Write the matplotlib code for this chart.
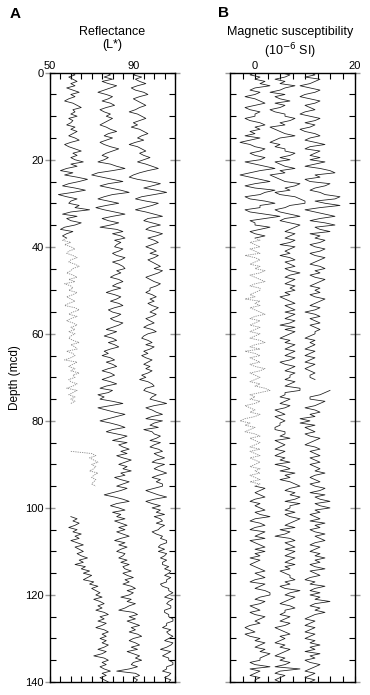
import numpy as np
import matplotlib
matplotlib.use("Agg")
import matplotlib.pyplot as plt
from matplotlib.ticker import MultipleLocator

plt.rcParams['font.family'] = ['Liberation Sans', 'DejaVu Sans']

nan = np.nan
depth = np.arange(0, 281) * 0.5  # mcd, 0.5 m steps

# Reflectance L* (three offset records), rows of 10 m
refl_1 = [
    60, 62, 59, 61, 63, 60, 62, 58, 61, 64, 60, 62, 59, 57, 61, 63, 65, 61, 62, 60,
    63, 59, 61, 60, 58, 62, 60, 63, 61, 59, 62, 64, 60, 57, 59, 62, 65, 61, 63, 60,
    62, 66, 60, 63, 58, 55, 61, 57, 63, 68, 64, 59, 56, 62, 67, 61, 54, 58, 63, 60,
    59, 64, 62, 69, 60, 56, 63, 58, 60, 65, 62, 57, 55, 61, 58, 56, 58, 56, 60, 57,
    60, 62, 59, 58, 61, 63, 60, 59, 62, 64, 61, 60, 58, 61, 63, 59, 62, 57, 60, 61,
    59, 63, 61, 58, 60, 62, 59, 57, 62, 64, 61, 59, 63, 60, 58, 61, 63, 60, 62, 59,
    62, 60, 59, 61, 64, 60, 62, 63, 58, 61, 62, 60, 57, 63, 61, 59, 62, 60, 64, 61,
    62, 59, 60, 63, 61, 58, 63, 61, 59, 62, 60, 62, 60, nan, nan, nan, nan, nan, nan, nan,
    nan, nan, nan, nan, nan, nan, nan, nan, nan, nan, nan, nan, nan, nan, 60, 70, 72, 69, 71, 73,
    70, 72, 71, 69, 73, 71, 70, 72, 71, 70, 72, nan, nan, nan, nan, nan, nan, nan, nan, nan,
    nan, nan, nan, nan, 60, 63, 61, 64, 62, 59, 63, 61, 65, 62, 64, 60, 63, 66, 62, 64,
    66, 63, 65, 68, 64, 66, 62, 67, 65, 69, 66, 70, 68, 66, 71, 69, 73, 70, 72, 74,
    72, 75, 71, 74, 76, 73, 75, 72, 76, 78, 74, 76, 73, 77, 75, 72, 76, 78, 75, 77,
    74, 77, 75, 78, 76, 73, 77, 75, 71, 76, 78, 75, 77, 74, 76, 79, 75, 77, 74, 76,
    78]
refl_2 = [
    77, 79, 76, 80, 75, 78, 82, 79, 76, 73, 77, 80, 78, 75, 79, 81, 77, 74, 76, 79,
    77, 80, 78, 76, 74, 77, 79, 82, 78, 76, 80, 77, 74, 76, 79, 83, 80, 77, 75, 78,
    76, 73, 79, 82, 86, 80, 73, 70, 75, 80, 85, 78, 74, 79, 84, 88, 80, 76, 73, 78,
    83, 77, 72, 76, 81, 86, 80, 75, 78, 83, 79, 74, 82, 85, 80, 84, 86, 81, 84, 82,
    81, 85, 83, 80, 82, 86, 84, 80, 83, 85, 86, 82, 84, 81, 79, 83, 85, 82, 80, 84,
    80, 77, 81, 84, 82, 79, 83, 85, 81, 78, 80, 84, 82, 79, 81, 85, 83, 80, 77, 82,
    79, 76, 80, 82, 78, 81, 83, 79, 76, 78, 75, 79, 81, 77, 80, 82, 78, 75, 79, 81,
    78, 75, 79, 82, 77, 74, 80, 78, 73, 76, 74, 80, 85, 79, 73, 77, 81, 86, 82, 78,
    74, 79, 83, 86, 80, 77, 82, 87, 84, 80, 87, 83, 85, 88, 84, 87, 82, 85, 89, 86,
    83, 87, 85, 89, 84, 86, 81, 84, 88, 85, 82, 87, 84, 80, 76, 81, 85, 88, 82, 79,
    83, 86, 80, 84, 82, 86, 81, 84, 87, 83, 86, 82, 85, 88, 84, 81, 86, 83, 87, 84,
    82, 86, 85, 83, 87, 84, 88, 85, 86, 89, 85, 87, 90, 86, 88, 85, 89, 91, 87, 90,
    88, 84, 89, 87, 91, 88, 86, 83, 90, 92, 88, 91, 87, 90, 93, 89, 91, 88, 92, 94,
    90, 88, 91, 93, 89, 92, 87, 90, 93, 91, 94, 90, 89, 92, 88, 82, 91, 93, 90, 92,
    91]
refl_3 = [
    92, 90, 94, 91, 93, 96, 92, 89, 91, 95, 97, 93, 90, 92, 94, 96, 93, 91, 88, 92,
    94, 96, 93, 90, 92, 89, 93, 95, 97, 94, 92, 95, 91, 88, 92, 94, 96, 93, 95, 98,
    95, 92, 96, 99, 102, 97, 93, 90, 88, 92, 98, 103, 99, 95, 101, 106, 100, 94, 91, 96,
    102, 99, 95, 91, 96, 100, 104, 97, 95, 99, 103, 98, 96, 100, 104, 101, 97, 100, 102, 99,
    96, 99, 101, 98, 102, 100, 97, 99, 101, 103, 100, 104, 102, 99, 96, 98, 100, 103, 101, 98,
    98, 96, 99, 101, 98, 100, 97, 99, 102, 100, 98, 101, 99, 96, 98, 100, 97, 95, 99, 101,
    97, 95, 94, 97, 99, 96, 100, 98, 95, 97, 94, 96, 99, 97, 95, 98, 96, 99, 97, 94,
    96, 93, 97, 99, 100, 96, 95, 98, 101, 99, 98, 102, 106, 100, 96, 99, 101, 104, 99, 96,
    104, 100, 98, 102, 95, 99, 100, 103, 101, 98, 103, 100, 98, 102, 104, 100, 102, 105, 101, 99,
    105, 102, 100, 103, 106, 102, 99, 103, 101, 104, 104, 100, 96, 99, 102, 106, 100, 96, 99, 103,
    99, 103, 101, 105, 100, 103, 104, 101, 105, 103, 102, 99, 101, 104, 103, 106, 106, 103, 102, 105,
    102, 106, 105, 103, 106, 104, 104, 107, 105, 108, 107, 105, 108, 106, 106, 103, 104, 107, 107, 109,
    107, 105, 109, 107, 106, 108, 108, 105, 105, 107, 107, 109, 109, 106, 106, 104, 108, 106, 107, 109,
    107, 105, 109, 108, 106, 103, 108, 106, 104, 107, 107, 109, 109, 106, 106, 104, 108, 107, 105, 108,
    107]

# Magnetic susceptibility (10^-6 SI, three offset records), rows of 10 m
ms_1 = [
    0, -1, 1, 0, 2, 1, 3, 0, -1, 1, 0, -2, 0, 1, 2, 0, -2, -1, 1, 0,
    0, -2, -1, 1, 2, 0, 1, -1, 0, -2, 1, -1, -3, -1, 0, 2, 1, -1, 0, 2,
    1, -2, 0, 2, 4, 1, -1, -3, -1, 1, 3, 0, -2, 0, 4, 2, 1, -2, -1, 2,
    4, 1, 1, -2, -1, 2, 5, 2, -1, 0, 0, 3, 1, -1, 0, 2, 0, 1, -1, 0,
    1, -1, 0, 1, -2, 0, 1, 0, -1, 1, 0, 2, 1, -1, 0, 1, 2, 0, -1, 1,
    1, 0, -1, 0, -2, 1, 0, 1, -1, 0, 1, 2, 0, -1, 1, 0, -1, 1, 0, -1,
    1, 0, -1, 1, 2, 0, -1, 1, -2, 0, 1, -1, 0, 1, -1, 0, 2, 1, -1, 0,
    1, 0, -1, 1, 0, 2, 3, 1, -1, 0, -1, 1, 0, -2, -1, 0, -1, 1, 0, -2,
    -3, -1, -2, 0, -1, -2, 0, 1, -1, 0, 1, 0, -1, 1, -1, 0, 1, -1, 0, 1,
    0, -1, 1, 0, 1, -1, 0, 1, -1, 1, 0, 2, 1, 0, 1, 2, 0, -1, 1, 0,
    1, 2, 0, 1, 3, 0, -1, 1, 2, 0, -1, 2, 1, 0, 2, -1, 0, 1, 2, 0,
    2, 0, 1, -1, 1, 0, -1, 0, 1, 2, 0, 1, 2, 0, -1, 2, 1, 0, 2, 3,
    3, 1, 0, 2, 1, -1, 0, 1, -1, 0, 2, 1, 0, 1, -1, -2, -1, 0, -2, -1,
    1, 0, 2, 1, 0, 2, 1, 3, 2, 1, 1, -1, 0, 3, -1, 1, 0, -1, 1, 0,
    0]
ms_2 = [
    5, 7, 6, 4, 6, 5, 8, 6, 5, 3, 6, 4, 5, 7, 4, 6, 5, 3, 4, 6,
    6, 8, 7, 5, 6, 3, 4, 5, 6, 8, 5, 4, 3, 5, 4, 6, 6, 8, 7, 5,
    7, 4, 5, 6, 8, 5, 6, 3, 4, 5, 6, 9, 8, 6, 7, 4, 5, 8, 9, 10,
    10, 7, 6, 4, 5, 7, 9, 6, 5, 7, 9, 8, 7, 6, 8, 7, 6, 8, 7, 5,
    8, 7, 6, 7, 5, 7, 8, 6, 7, 8, 6, 7, 9, 7, 6, 8, 7, 6, 8, 7,
    8, 6, 7, 5, 6, 7, 8, 6, 7, 8, 6, 8, 7, 6, 8, 7, 5, 8, 6, 8,
    7, 6, 5, 7, 6, 8, 7, 6, 8, 7, 6, 8, 7, 5, 6, 8, 7, 6, 8, 7,
    7, 6, 8, 7, 6, 9, 9, 6, 6, 5, 7, 6, 5, 7, 6, 4, 5, 6, 4, 5,
    6, 5, 5, 4, 4, 6, 6, 5, 7, 4, 5, 6, 5, 4, 6, 5, 4, 6, 5, 7,
    4, 6, 7, 5, 8, 6, 7, 5, 7, 8, 9, 7, 6, 8, 7, 9, 8, 6, 9, 7,
    7, 6, 8, 6, 7, 9, 8, 7, 6, 8, 5, 7, 6, 4, 7, 8, 6, 7, 8, 6,
    8, 7, 6, 8, 7, 6, 8, 6, 7, 5, 6, 7, 7, 8, 6, 7, 5, 6, 9, 7,
    6, 8, 7, 6, 5, 7, 8, 6, 6, 5, 7, 6, 5, 7, 6, 4, 5, 6, 7, 5,
    6, 5, 4, 6, 5, 7, 6, 5, 4, 6, 5, 7, 6, 4, 9, 5, 4, 6, 5, 4,
    5]
ms_3 = [
    11, 12, 10, 13, 12, 11, 9, 11, 13, 12, 10, 9, 11, 13, 12, 10, 11, 12, 10, 9,
    11, 13, 12, 10, 12, 11, 9, 10, 12, 13, 11, 10, 12, 14, 11, 10, 13, 12, 11, 13,
    11, 14, 12, 10, 13, 15, 16, 12, 13, 10, 11, 15, 14, 12, 11, 13, 14, 17, 16, 12,
    14, 17, 13, 10, 12, 14, 16, 13, 11, 14, 16, 12, 13, 15, 11, 13, 12, 14, 13, 11,
    12, 14, 13, 11, 12, 14, 13, 12, 11, 13, 14, 12, 13, 11, 12, 14, 13, 12, 11, 13,
    12, 13, 11, 12, 14, 13, 12, 11, 13, 12, 10, 12, 13, 11, 12, 13, 11, 12, 13, 12,
    12, 11, 10, 12, 11, 12, 11, 10, 12, 11, 10, 12, 11, 10, 12, 11, 10, 11, 12, 11,
    11, 12, nan, nan, nan, nan, 15, 14, 13, 11, 11, 14, 13, 12, 10, 12, 13, 11, 12, 9,
    11, 9, 12, 10, 11, 12, 10, 11, 13, 12, 11, 10, 12, 13, 11, 12, 13, 11, 12, 13,
    11, 12, 13, 12, 14, 12, 11, 12, 13, 11, 12, 14, 13, 11, 14, 12, 13, 15, 12, 13,
    15, 12, 13, 11, 12, 13, 11, 14, 12, 13, 11, 12, 14, 12, 13, 14, 12, 11, 13, 12,
    11, 13, 12, 14, 12, 13, 11, 12, 14, 11, 12, 13, 11, 10, 12, 11, 14, 12, 11, 13,
    11, 13, 12, 15, 12, 11, 13, 12, 14, 12, 11, 10, 12, 11, 10, 12, 11, 10, 12, 11,
    10, 12, 11, 13, 11, 12, 10, 13, 11, 12, 10, 11, 13, 12, 11, 10, 12, 11, 10, 12,
    11]

# depth intervals drawn as light dotted records
refl_1_dotted = [(38, 76), (87, 95)]
ms_1_dotted = [(38, 95)]

W, H = 370, 695
fig = plt.figure(figsize=(W / 100, H / 100), dpi=100)

def make_ax(left_px):
    return fig.add_axes([left_px / W, (H - 682) / H, 125 / W, (682 - 72.7) / H])

axA = make_ax(50)
axB = make_ax(230)

solid_kw = dict(color='#1a1a1a', lw=0.55)
dot_kw = dict(color='#8a8a8a', lw=0.6, ls=(0, (1.5, 1.2)))

def draw(ax, vals, dotted=()):
    v = np.array(vals, dtype=float)
    mask = np.zeros_like(v, dtype=bool)
    interior = np.zeros_like(v, dtype=bool)
    for a, b in dotted:
        mask |= (depth >= a) & (depth <= b)
        interior |= (depth > a) & (depth < b)
    solid = np.where(interior, nan, v)
    ax.plot(solid, depth, **solid_kw)
    if dotted:
        ax.plot(np.where(mask, v, nan), depth, **dot_kw)

draw(axA, refl_1, refl_1_dotted)
draw(axA, refl_2)
draw(axA, refl_3)
draw(axB, ms_1, ms_1_dotted)
draw(axB, ms_2)
draw(axB, ms_3)

axA.set_xlim(50, 110)
axB.set_xlim(-5, 20)

for ax, minor, labels in ((axA, 5, [50, 90]), (axB, 2.5, [0, 20])):
    ax.set_ylim(140, 0)
    for s in ax.spines.values():
        s.set_linewidth(1.0)
    ax.xaxis.tick_top()
    ax.set_xticks(labels)
    ax.xaxis.set_minor_locator(MultipleLocator(minor))
    ax.tick_params(axis='x', which='both', direction='in', top=True, bottom=True,
                   labeltop=True, labelbottom=False, length=4, width=0.8,
                   labelsize=8, pad=1)
    ax.set_yticks(np.arange(0, 141, 20))
    ax.yaxis.set_minor_locator(MultipleLocator(5))
    ax.tick_params(axis='y', which='major', direction='inout', left=True, right=True,
                   length=7, width=1.0, color='#9a9a9a', labelcolor='black',
                   labelsize=8, pad=1)
    ax.tick_params(axis='y', which='minor', direction='in', left=True, right=True,
                   length=4, width=0.8)

axB.tick_params(axis='y', labelleft=False)
axA.set_ylabel('Depth (mcd)', fontsize=8.5, labelpad=3)

fig.text(10 / W, 1 - 14 / H, 'A', fontsize=11, fontweight='bold', va='center', ha='left')
fig.text(218 / W, 1 - 13 / H, 'B', fontsize=11, fontweight='bold', va='center', ha='left')
fig.text(112 / W, 1 - 32 / H, 'Reflectance', fontsize=9, ha='center', va='center')
fig.text(112 / W, 1 - 45 / H, '(L*)', fontsize=9, ha='center', va='center')
fig.text(290 / W, 1 - 32 / H, 'Magnetic susceptibility', fontsize=9, ha='center', va='center')
fig.text(290 / W, 1 - 51 / H, '(10$^{-6}$ SI)', fontsize=9, ha='center', va='center')

fig.savefig('out.png', dpi=100)
